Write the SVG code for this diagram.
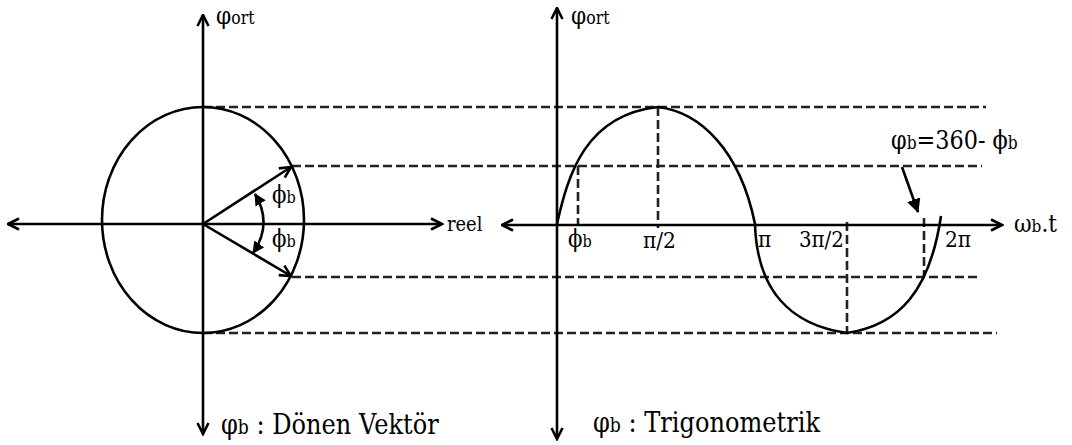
<svg xmlns="http://www.w3.org/2000/svg" width="1072" height="445" viewBox="0 0 1072 445">
<style>
.ax{stroke:#000;stroke-width:2.6;fill:none}
.ds{stroke:#222;stroke-width:2.6;fill:none;stroke-dasharray:9 4}
text{font-family:'DejaVu Serif','Liberation Serif',serif;fill:#000}
</style>
<defs>
<marker id="open" viewBox="0 0 14 14" refX="12.5" refY="7" markerWidth="14" markerHeight="14" markerUnits="userSpaceOnUse" orient="auto-start-reverse">
<path d="M1.5,1.5 L12.5,7 L1.5,12.5" fill="none" stroke="#000" stroke-width="2.6"/>
</marker>
<marker id="fill" viewBox="0 0 12 12" refX="11" refY="6" markerWidth="12" markerHeight="12" markerUnits="userSpaceOnUse" orient="auto-start-reverse">
<path d="M0,0 L12,6 L0,12 Z" fill="#000"/>
</marker>
<marker id="fillbig" viewBox="0 0 14 14" refX="13" refY="7" markerWidth="14" markerHeight="14" markerUnits="userSpaceOnUse" orient="auto">
<path d="M0,0 L14,7 L0,14 Z" fill="#000"/>
</marker>
</defs>
<g id="guides">
<line class="ds" x1="203" y1="107" x2="986" y2="107"/>
<line class="ds" x1="292" y1="166" x2="982" y2="166"/>
<line class="ds" x1="292" y1="277" x2="980" y2="277"/>
<line class="ds" x1="203" y1="333" x2="997" y2="333"/>
<line class="ds" x1="578" y1="166" x2="578" y2="225"/>
<line class="ds" x1="658" y1="107" x2="658" y2="228"/>
<line class="ds" x1="847" y1="222" x2="847" y2="333"/>
<line class="ds" x1="924" y1="218" x2="924" y2="277"/>
</g>
<g id="phasor">
<ellipse class="ax" cx="203" cy="220" rx="101" ry="113"/>
<line class="ax" x1="203" y1="224" x2="291" y2="167" marker-end="url(#open)"/>
<line class="ax" x1="203" y1="224" x2="291" y2="276" marker-end="url(#open)"/>
<path class="ax" d="M255,194 Q273,224 253,253" marker-start="url(#fill)" marker-end="url(#fill)"/>
</g>
<g id="axes-left">
<line class="ax" x1="203" y1="434" x2="203" y2="15" marker-end="url(#open)" marker-start="url(#open)"/>
<line class="ax" x1="8" y1="224" x2="442" y2="224" marker-start="url(#open)" marker-end="url(#open)"/>
</g>
<g id="axes-right">
<line class="ax" x1="557" y1="439" x2="557" y2="8" marker-end="url(#open)" marker-start="url(#open)"/>
<line class="ax" x1="502" y1="225" x2="1002" y2="225" marker-start="url(#open)" marker-end="url(#open)"/>
</g>
<g id="wave">
<path class="ax" d="M557,224 C568,175 585,115 658,107 C700,112 740,150 755,224 C757,290 790,325 847,333 C900,325 930,290 941,216"/>
</g>
<g id="connectors">
<line x1="902" y1="167" x2="918" y2="212" stroke="#000" stroke-width="2.6" marker-end="url(#fillbig)"/>
</g>
<g id="labels">
<text transform="translate(216,24) scale(0.87,1)" font-size="25">φ<tspan font-size="18">ort</tspan></text>
<text transform="translate(571,24) scale(0.87,1)" font-size="25">φ<tspan font-size="18">ort</tspan></text>
<text transform="translate(272,203) scale(0.85,1)" font-size="25">ϕ<tspan font-size="17">b</tspan></text>
<text transform="translate(272,247) scale(0.85,1)" font-size="25">ϕ<tspan font-size="17">b</tspan></text>
<text transform="translate(447,231) scale(0.85,1)" font-size="21">reel</text>
<text transform="translate(568,247) scale(0.85,1)" font-size="25">ϕ<tspan font-size="17">b</tspan></text>
<text transform="translate(643,248) scale(0.92,1)" font-size="22">π/2</text>
<text transform="translate(758,247) scale(0.92,1)" font-size="22">π</text>
<text transform="translate(799,247) scale(0.9,1)" font-size="22">3π/2</text>
<text transform="translate(945,247) scale(0.92,1)" font-size="22">2π</text>
<text transform="translate(1014,232) scale(0.9,1)" font-size="24">ω<tspan font-size="17">b</tspan>.t</text>
<text transform="translate(891,149) scale(0.86,1)" font-size="26">φ<tspan font-size="18">b</tspan>=360- ϕ<tspan font-size="18">b</tspan></text>
<text transform="translate(221,434) scale(0.86,1)" font-size="28">φ<tspan font-size="20">b</tspan> : Dönen Vektör</text>
<text transform="translate(593,432) scale(0.86,1)" font-size="28">φ<tspan font-size="20">b</tspan> : Trigonometrik</text>
</g>
</svg>
